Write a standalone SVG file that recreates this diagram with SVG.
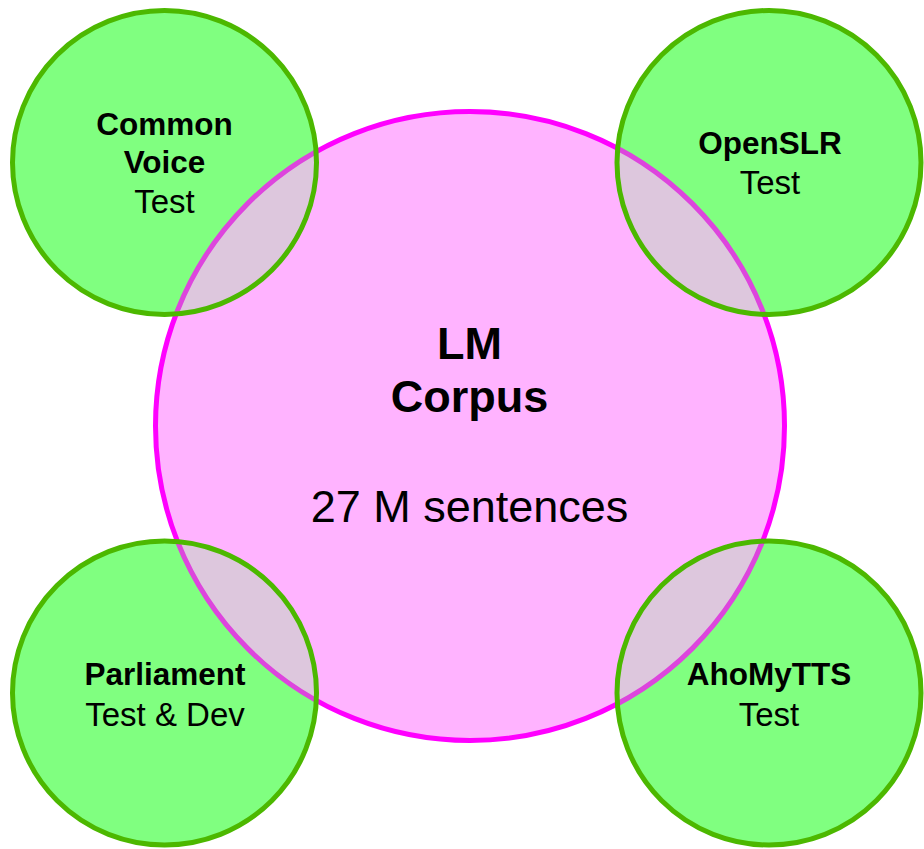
<svg xmlns="http://www.w3.org/2000/svg" width="924" height="849" viewBox="0 0 924 849">
<defs>
<style>
.gbase{fill:#80ff80;stroke:none}
.gtop{fill:#80ff80;fill-opacity:0.27;stroke:#4cb800;stroke-width:5}
.pink{fill:#ffb3ff;stroke:#ff00ff;stroke-width:5}
text{font-family:"Liberation Sans",Arial,sans-serif;fill:#000;text-anchor:middle}
.b{font-weight:bold;font-size:31.5px}
.r{font-size:33px}
.B{font-weight:bold;font-size:45px}
.R{font-size:45px}
</style>
</defs>
<rect width="924" height="849" fill="#fff"/>
<g id="green-base">
<circle class="gbase" cx="164.5" cy="162.5" r="152"/>
<circle class="gbase" cx="769" cy="162.5" r="152"/>
<circle class="gbase" cx="164.5" cy="693" r="152"/>
<circle class="gbase" cx="769" cy="693" r="152"/>
</g>
<g id="lm-corpus">
<circle class="pink" cx="470" cy="426" r="314.5"/>
<text class="B" x="469.5" y="359">LM</text>
<text class="B" x="469.5" y="412">Corpus</text>
<text class="R" x="469.5" y="522">27 M sentences</text>
</g>
<g id="common-voice">
<circle class="gtop" cx="164.5" cy="162.5" r="152"/>
<text class="b" x="164.5" y="134.5">Common</text>
<text class="b" x="164.5" y="173">Voice</text>
<text class="r" x="164.5" y="213">Test</text>
</g>
<g id="openslr">
<circle class="gtop" cx="769" cy="162.5" r="152"/>
<text class="b" x="770" y="154">OpenSLR</text>
<text class="r" x="770" y="193.5">Test</text>
</g>
<g id="parliament">
<circle class="gtop" cx="164.5" cy="693" r="152"/>
<text class="b" x="165" y="685">Parliament</text>
<text class="r" x="165" y="725.5">Test &amp; Dev</text>
</g>
<g id="ahomytts">
<circle class="gtop" cx="769" cy="693" r="152"/>
<text class="b" x="769" y="685">AhoMyTTS</text>
<text class="r" x="769" y="725.5">Test</text>
</g>
<g id="connectors"/>
</svg>
